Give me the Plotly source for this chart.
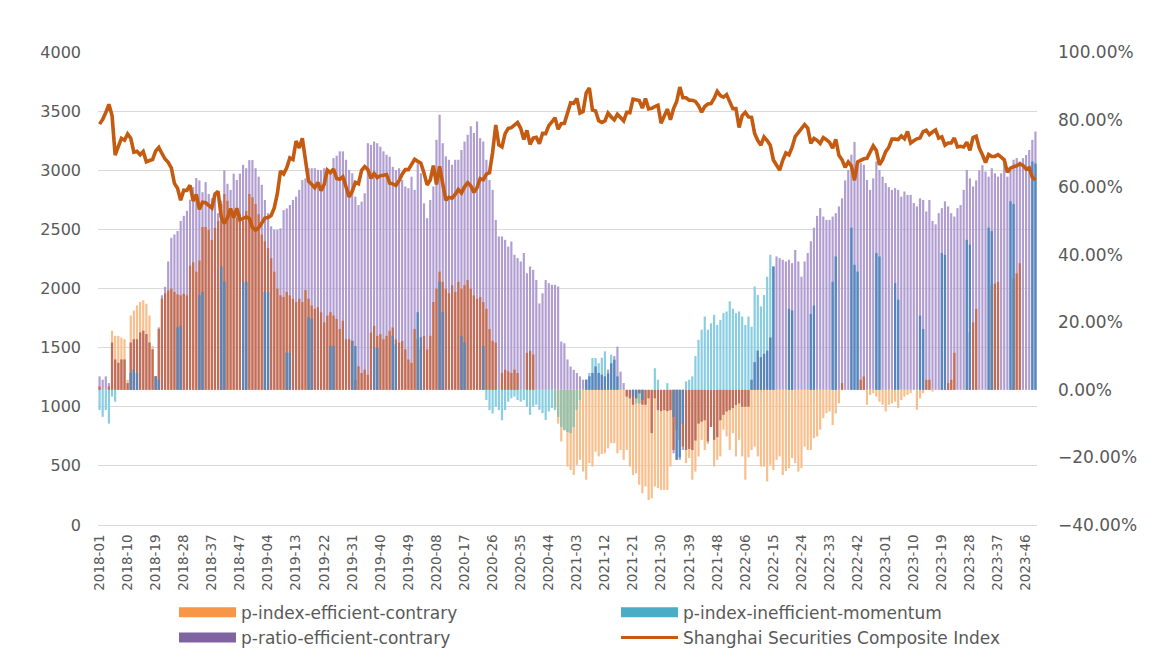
import numpy as np
import plotly.graph_objects as go

# ---- categories: weekly labels (year, last week number, weeks absent from the sample)
WEEK_SPEC = [(2018, 52, {40}), (2019, 52, set()), (2020, 52, {4, 5, 51, 52}),
             (2021, 52, set()), (2022, 52, {5, 51, 52}), (2023, 49, set())]
weeks = [f"{y}-{w:02d}" for y, last, miss in WEEK_SPEC for w in range(1, last + 1) if w not in miss]

# ---- series (percent, right axis)
p_index_efficient_contrary = [
    1, 0, 0, 1, 17.5, 16, 16, 15.5, 15, 3,
    22, 23.5, 25, 26, 26.5, 25.5, 22, 13, 4, 18,
    27, 28.6, 29.5, 30, 29, 28.3, 28, 28.5, 28, 36.8,
    37.8, 35, 38.3, 48.2, 48.2, 47.4, 44.4, 48, 50, 55,
    58, 56, 52, 53, 51, 52, 50, 53, 58, 57,
    55, 52, 46, 44, 42, 39, 35, 30, 28, 27.5,
    29, 28, 27, 26, 27, 26, 29.5, 27, 25, 24,
    24.5, 23, 20, 22, 23, 22, 21, 18, 20.5, 15,
    15, 14.5, 3, 7, 5, 6, 4.5, 17, 19, 16,
    16.5, 15, 16, 17.5, 18.5, 15, 14, 14.5, 12, 9,
    8, 18, 15, 12, 16, 12, 16, 26, 30, 35,
    32, 30, 28.6, 31, 29, 32, 30, 31, 32.5, 30,
    28, 27, 27.5, 26, 24, 18, 14.5, 14, 0, 5,
    6, 5.5, 5, 6, 5, 0, 0, 11, 11.5, 10.5,
    0, 0, 0, 0, 0, 0, -5, -10, -15.3, -11.8,
    -22.7, -23.7, -25.2, -22.2, -20.7, -24.2, -26.6, -21.7, -22.7, -18.3,
    -19.7, -19, -18.8, -17.3, -15.8, -15.8, -18.8, -17.8, -20.7, -17.8,
    -22.7, -25.2, -24.7, -28.1, -30.6, -28.6, -32.6, -32.1, -28.6, -29.1,
    -29.6, -29.6, -29.6, -22.7, -17.8, -11.8, -14.8, -16.8, -21.7, -20.2,
    -26.6, -24.2, -19.7, -14.8, -17.8, -16, -11, -22.7, -20.7, -19.7,
    -11.8, -13.8, -17.8, -12.8, -19.7, -14.8, -19.7, -26.6, -20, -17.8,
    -16.8, -19.7, -22.7, -22.7, -27.1, -22.2, -23.7, -20.7, -19.7, -25.2,
    -24, -23.2, -20.2, -21.7, -24.2, -23.2, -16.8, -17.8, -17.8, -14.3,
    -13.8, -11.8, -8.4, -6.9, -6.4, -10.4, -7, -4, 2, 0,
    0, 0, 0, 0, 3, 4, -4.4, -1.5, -1, -2,
    -3.5, -4.4, -6.4, -4.4, -4, -3.5, -5.4, -3, -2, -1.5,
    -1, 0, -5.9, -2.5, -1, 3, 3, -0.5, 0, 0,
    0, 0, 2, 3, 11, 0, 0, 0, 0, 17,
    20, 24, 0, 0, 0, 0, 31, 31.5, 32, 0,
    0, 0, 0, 33, 34.5, 37.5, 0, 0, 0, 0,
    0]

p_index_inefficient_momentum = [
    -6, -8, -6, -10, -2, -3.5, 0, 0, 0, 0,
    5, 6, 5, 0, 0, 0, 0, 0, 4, 3,
    0, 0, 0, 0, 0, 18.5, 19, 0, 0, 0,
    0, 0, 28, 29, 0, 0, 0, 0, 0, 36.5,
    32, 0, 0, 0, 0, 0, 32, 32, 0, 0,
    0, 0, 0, 29, 29, 0, 0, 0, 0, 0,
    11, 11, 0, 0, 0, 0, 0, 21.5, 21, 0,
    0, 0, 0, 0, 13, 13, 0, 0, 0, 0,
    0, 14.5, 13, 0, 0, 0, 0, 0, 12.5, 12.5,
    0, 0, 0, 0, 16, 13.5, 0, 0, 0, 0,
    0, 0, 23, 15.6, 0, 0, 0, 0, 0, 32,
    23, 0, 0, 0, 0, 0, 16, 14, 0, 0,
    0, 0, 0, 13, -3, -6, -7, -5, -6, -9,
    -6, -3.5, -2.5, -2, -3, -3.5, -3, -5, -7.4, -5,
    -4.4, -5.9, -6.9, -8.9, -6.4, -5.4, -6, -8, -11, -12,
    -12.5, -12.8, -11, -6, -3, 0, 3, 5, 9.4, 9.4,
    7.9, 9.5, 11.4, 4.9, 10.4, 8.9, 4, 0, 0, 0,
    0, -2, -4, -4, -3, 0, 0, 0, 6.4, 3,
    0, 0, 2, 0, -8, -20.7, -20, -10, 2.5, 3,
    4, 10, 14.8, 17.8, 21.7, 17.8, 19.7, 22.2, 19.2, 20.7,
    22.7, 23.2, 26.2, 24, 22.7, 23.2, 21.7, 19.2, 21.7, 18.7,
    30.6, 28.1, 24.7, 28.1, 33.5, 40, 36.5, 0, 0, 0,
    0, 24, 23.5, 0, 0, 0, 0, 0, 22.5, 25,
    0, 0, 0, 0, 0, 32, 39.5, 0, 0, 0,
    0, 48, 37, 35, 0, 0, 0, 0, 0, 40.5,
    39.5, 0, 0, 0, 0, 31.6, 26.7, 0, 0, 0,
    0, 0, 0, 22, 18, 0, 0, 0, 0, 0,
    40.5, 40, 0, 0, 0, 0, 0, 0, 44.4, 43,
    0, 0, 0, 0, 0, 48, 47, 0, 0, 0,
    0, 0, 55.8, 55, 0, 0, 0, 0, 0, 67.6,
    67]

p_ratio_efficient_contrary = [
    4, 3, 4, 2, 14, 9, 8, 9, 9, 2,
    14, 15, 15, 17, 17.5, 16.5, 14, 12, 4, 18.5,
    28, 30.5, 38, 45, 46, 47, 50, 51.5, 53, 56.3,
    60, 62.7, 62, 58.5, 61.5, 58, 56.7, 58.5, 52.3, 56,
    65, 61, 59.2, 64, 62.1, 64, 66.6, 65.6, 68, 68,
    65.6, 63.1, 60.7, 56.2, 52.3, 48.4, 47.4, 47.4, 47.8, 53.2,
    53.7, 54.7, 56.2, 57.2, 59.2, 62.1, 62.6, 65.6, 65.6, 65.6,
    65.1, 65.1, 65.6, 64.6, 65.1, 68.6, 69.3, 70.6, 70.6, 68.1,
    65.1, 64.1, 57.2, 54.7, 55.7, 58.2, 73, 72.5, 73.5, 73,
    72, 70.6, 69.6, 69, 66, 65, 65.6, 62.1, 60.2, 59.7,
    63.1, 59.2, 67, 64.1, 55.2, 50.8, 56.2, 60.2, 74, 81.4,
    73, 69.1, 68.1, 66.6, 68.1, 68.1, 71, 73.5, 75.5, 78,
    76, 79.4, 74.5, 73.5, 68.1, 62.1, 59.2, 50.3, 45.4, 45.4,
    44.4, 42.4, 43.9, 40, 39, 38, 40.5, 34.5, 36.5, 35.5,
    32.5, 25.6, 28.6, 32.5, 31.6, 31.1, 31.1, 30.6, 14.3, 13.8,
    9, 6.9, 5.9, 5, 4, 3, 3, 4, 5, 6.9,
    5, 4.5, 4, 6, 7.9, 10, 12.8, 5.4, 2, -2,
    -2.5, -4.4, -2.5, -1, -4.4, -4.4, -2.5, -12.8, -2.5, -6,
    -6.3, -6, -6.3, -6, -18.8, -20.7, -20.7, -17.8, -17.8, -17.5,
    -17.8, -15, -10, -9.4, -9, -15.3, -11, -14.8, -14, -9,
    -7.4, -6.4, -6, -5.4, -4.5, -4, -5, -5, -5, 3,
    8.2, 11.6, 9.7, 10.7, 11.6, 15.5, 36.5, 39.5, 39, 38.5,
    38, 38.5, 37.5, 41.4, 38, 33.5, 38, 40.5, 44, 48,
    51.5, 53.8, 51.3, 50.3, 50.3, 51.3, 52.3, 54.3, 56.7, 62,
    65.1, 69.6, 73.4, 66.1, 67.1, 66.6, 62.1, 59.2, 62.6, 67.6,
    65.1, 63.1, 61.2, 60, 59.2, 59.7, 59.2, 57.2, 58.7, 57.7,
    57.7, 55.3, 54.3, 56.7, 56.2, 52.8, 56.2, 50, 49, 52.3,
    53.8, 55.8, 54.3, 52.3, 51.3, 53.8, 54.7, 59.2, 65.1, 62.6,
    60.2, 62, 65, 66.5, 64.6, 63.1, 65.6, 64.1, 63.1, 64.1,
    67.1, 63.1, 65.1, 68.1, 68.6, 67.6, 68.6, 69.5, 71, 74,
    76.5]

# ---- Shanghai Securities Composite Index (left axis)
sse_composite = [
    3390, 3430, 3488, 3558, 3462, 3129, 3199, 3270, 3254, 3307,
    3270, 3153, 3160, 3131, 3159, 3071, 3082, 3091, 3163, 3193,
    3142, 3095, 3067, 3021, 2889, 2847, 2747, 2831, 2829, 2873,
    2740, 2795, 2669, 2729, 2725, 2702, 2681, 2797, 2821, 2606,
    2550, 2598, 2676, 2598, 2679, 2579, 2588, 2605, 2593, 2516,
    2493, 2514, 2553, 2596, 2601, 2618, 2682, 2804, 2994, 2969,
    3021, 3104, 3090, 3247, 3189, 3270, 3086, 2906, 2882, 2852,
    2898, 2827, 2881, 3001, 2979, 3011, 2930, 2924, 2945, 2867,
    2775, 2823, 2897, 2886, 2999, 3031, 3006, 2932, 2973, 2938,
    2954, 2958, 2964, 2891, 2885, 2871, 2912, 2967, 3005, 3005,
    3050, 3092, 3075, 3060, 2977, 2876, 2917, 3040, 2880, 3034,
    2887, 2746, 2772, 2764, 2796, 2838, 2808, 2860, 2895, 2868,
    2813, 2852, 2930, 2919, 2967, 2979, 3152, 3383, 3214, 3197,
    3310, 3354, 3360, 3380, 3403, 3355, 3260, 3338, 3219, 3272,
    3278, 3225, 3312, 3310, 3377, 3408, 3444, 3347, 3394, 3397,
    3473, 3570, 3566, 3607, 3483, 3496, 3655, 3696, 3509, 3502,
    3419, 3405, 3418, 3484, 3451, 3426, 3474, 3447, 3418, 3490,
    3486, 3601, 3592, 3590, 3525, 3607, 3519, 3524, 3539, 3550,
    3397, 3458, 3517, 3427, 3522, 3581, 3703, 3613, 3613, 3592,
    3592, 3582, 3547, 3491, 3539, 3560, 3564, 3607, 3667, 3632,
    3618, 3640, 3579, 3521, 3522, 3361, 3462, 3490, 3451, 3447,
    3310, 3251, 3212, 3282, 3251, 3211, 3087, 3047, 3001, 3084,
    3146, 3130, 3195, 3285, 3316, 3349, 3387, 3356, 3228, 3269,
    3253, 3227, 3276, 3258, 3236, 3186, 3262, 3126, 3088, 3024,
    3071, 3038, 2915, 3070, 3087, 3097, 3101, 3156, 3206, 3167,
    3045, 3089, 3157, 3195, 3264, 3263, 3260, 3290, 3267, 3328,
    3230, 3250, 3266, 3273, 3327, 3338, 3301, 3323, 3340, 3272,
    3283, 3212, 3230, 3231, 3273, 3197, 3203, 3197, 3237, 3168,
    3276, 3288, 3189, 3131, 3064, 3133, 3116, 3117, 3132, 3110,
    3088, 2983, 3017, 3030, 3038, 3054, 3041, 3011, 3021, 2942,
    2918]

for s in (p_index_efficient_contrary, p_index_inefficient_momentum,
          p_ratio_efficient_contrary, sse_composite):
    assert len(s) == len(weeks), (len(s), len(weeks))

O = np.array(p_index_efficient_contrary, float)
B = np.array(p_index_inefficient_momentum, float)
P = np.array(p_ratio_efficient_contrary, float)


def overlap(a, b):
    same = (np.sign(a) == np.sign(b)) & (a != 0)
    return np.where(same, np.sign(a) * np.minimum(np.abs(a), np.abs(b)), 0.0)


FONT = "DejaVu Sans"
GREY = "#595959"

fig = go.Figure()
bars = [
    (P, "#B19ED1"),              # p-ratio alone (lavender)
    (O, "#F8BE8C"),              # p-index-efficient alone (pale orange)
    (B, "#88CDE1"),              # p-index-inefficient alone (light cyan)
    (overlap(O, B), "#9DBFA2"),  # orange & cyan overlap
    (overlap(O, P), "#C06E5A"),  # orange & purple overlap
    (overlap(B, P), "#5A85BC"),  # cyan & purple overlap
]
for vals, col in bars:
    fig.add_trace(go.Bar(x=weeks, y=vals, marker=dict(color=col, line=dict(width=0)),
                         yaxis="y", showlegend=False, hoverinfo="skip"))

fig.add_trace(go.Scatter(x=weeks, y=sse_composite, yaxis="y2", mode="lines",
                         line=dict(color="#C55A11", width=3.6), showlegend=False,
                         name="Shanghai Securities Composite Index"))

# legend entries
for name, col, w in [("p-index-efficient-contrary", "#F79646", 10),
                     ("p-index-inefficient-momentum", "#4BACC6", 10),
                     ("p-ratio-efficient-contrary", "#8064A2", 10),
                     ("Shanghai Securities Composite Index", "#C55A11", 3)]:
    fig.add_trace(go.Scatter(x=[weeks[0]], y=[None], yaxis="y2", mode="lines",
                             line=dict(color=col, width=w), name=name))

# the page body adds an 8 px offset, so margins are set 8 px smaller on the top/left
fig.update_layout(
    width=1161, height=666,
    paper_bgcolor="white", plot_bgcolor="white",
    margin=dict(l=90, r=132, t=44, b=149, autoexpand=False),
    barmode="overlay", bargap=0.3,
    font=dict(family=FONT, color=GREY, size=15),
    xaxis=dict(type="category", categoryorder="array", categoryarray=weeks,
               range=[-0.5, len(weeks) - 0.5], automargin=False,
               tickmode="array", tickvals=weeks[::9], ticktext=weeks[::9],
               tickangle=-90, tickfont=dict(size=13.5, color=GREY, family=FONT),
               showgrid=False, showline=True, linecolor="#D9D9D9", linewidth=1,
               ticks="", ticklabelstandoff=3),
    yaxis=dict(side="right", range=[-40, 100], dtick=20, tickformat=".2f",
               ticksuffix="%", showgrid=False, zeroline=False, automargin=False,
               tickfont=dict(size=17, color=GREY, family=FONT), ticklabelstandoff=20),
    yaxis2=dict(overlaying="y", side="left", range=[0, 4000], dtick=500,
                showgrid=True, gridcolor="#D9D9D9", gridwidth=1, zeroline=False,
                automargin=False,
                tickfont=dict(size=16, color=GREY, family=FONT), ticklabelstandoff=16),
    legend=dict(orientation="h", xref="container", yref="container",
                x=0.143, y=0.119, xanchor="left", yanchor="top",
                entrywidth=370, font=dict(size=17, color=GREY, family=FONT),
                tracegroupgap=0, itemwidth=57),
)

fig.write_html("out.html")
